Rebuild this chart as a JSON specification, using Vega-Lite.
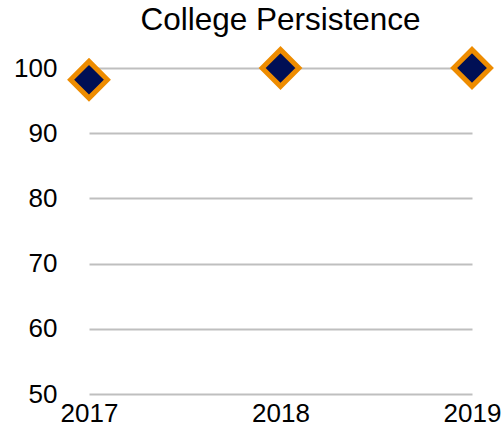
{
  "$schema": "https://vega.github.io/schema/vega-lite/v6.json",
  "width": 383,
  "height": 326,
  "autosize": {"type": "none"},
  "padding": {"left": 89, "top": 68, "right": 32, "bottom": 39},
  "background": "white",
  "title": {
    "text": "College Persistence",
    "font": "Liberation Sans",
    "fontSize": 31.5,
    "fontWeight": "normal",
    "color": "#000000",
    "anchor": "middle",
    "offset": 3
  },
  "config": {"view": {"stroke": null}},
  "data": {
    "values": [
      {"year": "2017", "value": 98.2},
      {"year": "2018", "value": 100},
      {"year": "2019", "value": 100}
    ]
  },
  "mark": {
    "type": "point",
    "shape": "diamond",
    "filled": true,
    "size": 1350,
    "fill": "#000f55",
    "stroke": "#ee8c00",
    "strokeWidth": 5,
    "opacity": 1,
    "clip": false
  },
  "encoding": {
    "x": {
      "field": "year",
      "type": "ordinal",
      "scale": {"type": "point", "padding": 0},
      "axis": {
        "title": null,
        "labelAngle": 0,
        "labelFont": "Liberation Sans",
        "labelFontSize": 26,
        "labelColor": "#000000",
        "labelPadding": 6,
        "ticks": false,
        "domain": false,
        "grid": false
      }
    },
    "y": {
      "field": "value",
      "type": "quantitative",
      "scale": {"domain": [50, 100], "nice": false, "zero": false},
      "axis": {
        "title": null,
        "values": [50, 60, 70, 80, 90, 100],
        "labelFont": "Liberation Sans",
        "labelFontSize": 26,
        "labelColor": "#000000",
        "labelPadding": 32,
        "ticks": false,
        "domain": false,
        "grid": true,
        "gridColor": "#bfbfbf",
        "gridWidth": 2
      }
    }
  }
}
